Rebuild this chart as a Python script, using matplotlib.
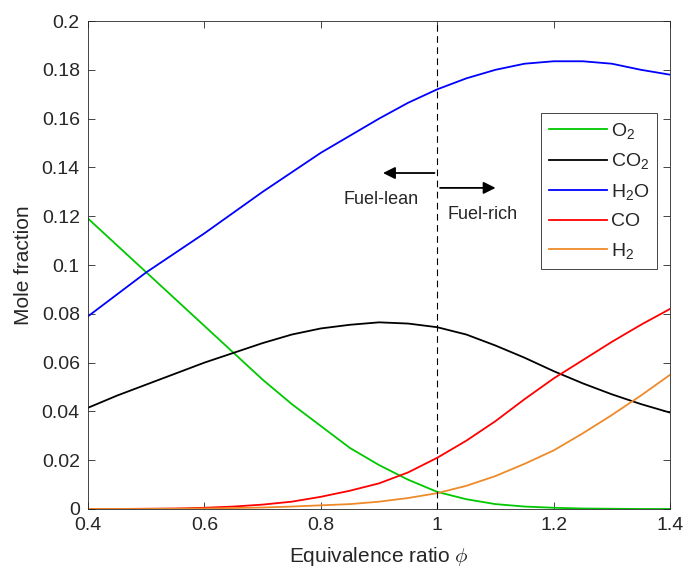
import matplotlib
matplotlib.use('Agg')
import matplotlib.pyplot as plt
from matplotlib.ticker import FormatStrFormatter

plt.rcParams['font.family'] = ['Liberation Sans', 'DejaVu Sans']
plt.rcParams['mathtext.fontset'] = 'cm'

phi = [0.40, 0.45, 0.50, 0.55, 0.60, 0.65, 0.70, 0.75, 0.80, 0.85, 0.90,
       0.95, 1.00, 1.05, 1.10, 1.15, 1.20, 1.25, 1.30, 1.35, 1.40]
x_o2 = [0.119, 0.108, 0.097, 0.086, 0.075, 0.064, 0.053, 0.043, 0.034, 0.025, 0.018,
        0.012, 0.007, 0.004, 0.002, 0.001, 0.0005, 0.0002, 0.0001, 0.0, 0.0]
x_co2 = [0.0415, 0.0465, 0.051, 0.0555, 0.060, 0.064, 0.068, 0.0715, 0.074, 0.0755, 0.0765,
         0.076, 0.0745, 0.0715, 0.067, 0.062, 0.0565, 0.0515, 0.047, 0.043, 0.0395]
x_h2o = [0.079, 0.088, 0.097, 0.105, 0.113, 0.1215, 0.130, 0.138, 0.146, 0.153, 0.160,
         0.1665, 0.172, 0.1765, 0.180, 0.1825, 0.1835, 0.1835, 0.1825, 0.180, 0.178]
x_co = [0.0, 0.0, 0.0001, 0.0002, 0.0005, 0.001, 0.0018, 0.003, 0.005, 0.0075, 0.0105,
        0.015, 0.021, 0.028, 0.036, 0.045, 0.0535, 0.061, 0.0685, 0.0755, 0.082]
x_h2 = [0.0, 0.0, 0.0, 0.0001, 0.0002, 0.0004, 0.0006, 0.001, 0.0015, 0.002, 0.003,
        0.0045, 0.0065, 0.0095, 0.0135, 0.0185, 0.024, 0.031, 0.0385, 0.0465, 0.055]

species = [r'O$\mathregular{_2}$', r'CO$\mathregular{_2}$', r'H$\mathregular{_2}$O',
           'CO', r'H$\mathregular{_2}$']
colors = ['#00c800', '#000000', '#0000ff', '#ff0000', '#ee8a2a']

fig = plt.figure(figsize=(6.83, 5.71), dpi=100)
ax = fig.add_axes([0.129, 0.1086, 0.852, 0.8546])

for ys, name, c in zip([x_o2, x_co2, x_h2o, x_co, x_h2], species, colors):
    ax.plot(phi, ys, color=c, lw=1.3, label=name)

ax.axvline(1.0, color='k', ls=(0, (6, 4)), lw=0.8)

# lean / rich indicators
ax.annotate('', xy=(0.902, 0.1377), xytext=(1.0, 0.1377),
            arrowprops=dict(arrowstyle='-|>', color='k', lw=1.3, mutation_scale=18))
ax.annotate('', xy=(1.105, 0.1316), xytext=(1.0, 0.1316),
            arrowprops=dict(arrowstyle='-|>', color='k', lw=1.3, mutation_scale=18))
ax.text(0.903, 0.127, 'Fuel-lean', ha='center', va='center', fontsize=13, color='#262626')
ax.text(1.018, 0.1205, 'Fuel-rich', ha='left', va='center', fontsize=13, color='#262626')

ax.set_xlim(0.4, 1.4)
ax.set_ylim(0, 0.2)
ax.set_xticks([0.4, 0.6, 0.8, 1.0, 1.2, 1.4])
ax.set_yticks([i * 0.02 for i in range(11)])
ax.xaxis.set_major_formatter(FormatStrFormatter('%g'))
ax.yaxis.set_major_formatter(FormatStrFormatter('%g'))
ax.tick_params(direction='in', top=True, right=True, labelsize=14, colors='#262626',
               length=5, width=0.6, pad=6)
for s in ax.spines.values():
    s.set_color('#262626')
    s.set_linewidth(0.6)

ax.set_xlabel(r'Equivalence ratio $\phi$', fontsize=15, color='#262626', labelpad=8)
ax.set_ylabel('Mole fraction', fontsize=15, color='#262626', labelpad=6)

leg = ax.legend(loc='upper right', bbox_to_anchor=(0.978, 0.8115), fontsize=14,
                fancybox=False, framealpha=1, edgecolor='#262626', handlelength=3.0,
                handletextpad=0.2, labelspacing=0.55, borderpad=0.4, borderaxespad=0)
leg.get_frame().set_linewidth(0.6)
for t in leg.get_texts():
    t.set_color('#262626')

plt.savefig('out.png', dpi=100)
plt.close()
